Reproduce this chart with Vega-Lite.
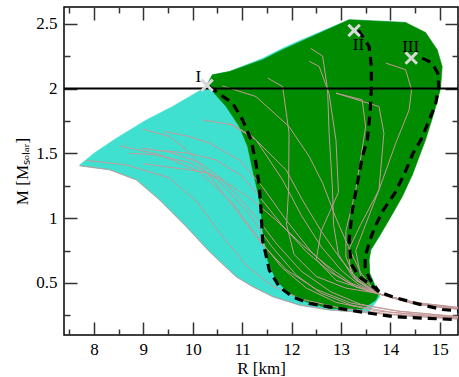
{
"$schema": "https://vega.github.io/schema/vega-lite/v6.json",
"width": 394, "height": 328,
"autosize": "none",
"padding": {"left": 64, "top": 7, "right": 1, "bottom": 42},
"background": "white",
"config": {"view": {"stroke": "#000", "strokeWidth": 1.5}, "font": "Liberation Serif"},
"datasets": {
"turq": [
{"R":7.71,"M":1.41},{"R":8.014,"M":1.505},{"R":8.453,"M":1.617},{"R":9.059,"M":1.758},{"R":9.59,"M":1.861},{"R":10.17,"M":1.99},{"R":10.277,"M":2.021},{"R":10.398,"M":2.106},{"R":10.741,"M":2.131},{"R":11.414,"M":2.233},{"R":11.818,"M":2.311},{"R":12.156,"M":2.369},{"R":13.166,"M":2.531},{"R":14.311,"M":2.51},{"R":14.95,"M":2.299},{"R":15.018,"M":2.003},{"R":14.445,"M":1.333},{"R":13.772,"M":0.856},{"R":13.604,"M":0.753},{"R":13.57,"M":0.676},{"R":13.584,"M":0.573},{"R":13.671,"M":0.496},{"R":13.772,"M":0.419},{"R":13.79,"M":0.393},{"R":13.55,"M":0.27},{"R":12.76,"M":0.29},{"R":12.155,"M":0.328},{"R":11.616,"M":0.393},{"R":11.212,"M":0.47},{"R":10.877,"M":0.547},{"R":10.338,"M":0.74},{"R":9.867,"M":0.934},{"R":9.327,"M":1.14},{"R":8.857,"M":1.294},{"R":8.317,"M":1.372},{"R":7.711,"M":1.403}
],
"green": [
{"R":10.277,"M":2.021},{"R":10.398,"M":2.106},{"R":10.741,"M":2.131},{"R":11.414,"M":2.222},{"R":11.818,"M":2.299},{"R":13.166,"M":2.531},{"R":14.311,"M":2.51},{"R":14.715,"M":2.433},{"R":14.95,"M":2.299},{"R":15.051,"M":2.17},{"R":15.018,"M":2.003},{"R":14.883,"M":1.81},{"R":14.715,"M":1.604},{"R":14.445,"M":1.333},{"R":14.242,"M":1.165},{"R":13.974,"M":0.985},{"R":13.772,"M":0.856},{"R":13.604,"M":0.753},{"R":13.57,"M":0.676},{"R":13.584,"M":0.573},{"R":13.671,"M":0.496},{"R":13.772,"M":0.419},{"R":13.705,"M":0.367},{"R":13.434,"M":0.298},{"R":12.762,"M":0.303},{"R":12.291,"M":0.354},{"R":11.954,"M":0.419},{"R":11.685,"M":0.522},{"R":11.515,"M":0.676},{"R":11.414,"M":0.908},{"R":11.382,"M":1.063},{"R":11.307,"M":1.217},{"R":11.212,"M":1.372},{"R":11.111,"M":1.552},{"R":10.943,"M":1.706},{"R":10.675,"M":1.861},{"R":10.337,"M":2.005}
],
"curves": [
{"c":"L1","R":7.71,"M":1.405},{"c":"L1","R":8.317,"M":1.374},{"c":"L1","R":8.857,"M":1.296},{"c":"L1","R":9.327,"M":1.142},{"c":"L1","R":9.867,"M":0.936},{"c":"L1","R":10.338,"M":0.742},{"c":"L1","R":10.877,"M":0.549},{"c":"L1","R":11.212,"M":0.472},{"c":"L1","R":11.616,"M":0.395},{"c":"L1","R":12.155,"M":0.33},{"c":"L1","R":12.76,"M":0.292},{"c":"L1","R":13.5,"M":0.27},{"c":"L1","R":14.5,"M":0.24},{"c":"L1","R":15.4,"M":0.22},
{"c":"L2","R":7.85,"M":1.445},{"c":"L2","R":8.66,"M":1.41},{"c":"L2","R":9.53,"M":1.31},{"c":"L2","R":10.1,"M":1.12},{"c":"L2","R":10.6,"M":0.86},{"c":"L2","R":11.1,"M":0.63},{"c":"L2","R":11.6,"M":0.48},{"c":"L2","R":12.2,"M":0.375},{"c":"L2","R":13.0,"M":0.305},{"c":"L2","R":14.0,"M":0.26},{"c":"L2","R":15.4,"M":0.225},
{"c":"L3","R":8.52,"M":1.557},{"c":"L3","R":9.33,"M":1.49},{"c":"L3","R":10.13,"M":1.36},{"c":"L3","R":10.8,"M":1.12},{"c":"L3","R":11.3,"M":0.86},{"c":"L3","R":11.8,"M":0.62},{"c":"L3","R":12.3,"M":0.46},{"c":"L3","R":12.9,"M":0.35},{"c":"L3","R":13.7,"M":0.285},{"c":"L3","R":14.6,"M":0.25},{"c":"L3","R":15.4,"M":0.23},
{"c":"L4","R":8.72,"M":1.5},{"c":"L4","R":9.2,"M":1.49},{"c":"L4","R":9.93,"M":1.43},{"c":"L4","R":10.5,"M":1.3},{"c":"L4","R":11.1,"M":1.05},{"c":"L4","R":11.6,"M":0.78},{"c":"L4","R":12.1,"M":0.56},{"c":"L4","R":12.6,"M":0.42},{"c":"L4","R":13.2,"M":0.33},{"c":"L4","R":14.0,"M":0.275},{"c":"L4","R":15.4,"M":0.232},
{"c":"L5","R":8.96,"M":1.54},{"c":"L5","R":9.53,"M":1.51},{"c":"L5","R":10.13,"M":1.43},{"c":"L5","R":10.6,"M":1.3},{"c":"L5","R":11.2,"M":1.05},{"c":"L5","R":11.7,"M":0.8},{"c":"L5","R":12.2,"M":0.59},{"c":"L5","R":12.8,"M":0.43},{"c":"L5","R":13.4,"M":0.335},{"c":"L5","R":14.2,"M":0.28},{"c":"L5","R":15.4,"M":0.236},
{"c":"L6","R":8.99,"M":1.686},{"c":"L6","R":9.53,"M":1.63},{"c":"L6","R":9.9,"M":1.52},{"c":"L6","R":10.4,"M":1.3},{"c":"L6","R":10.9,"M":1.05},{"c":"L6","R":11.4,"M":0.8},{"c":"L6","R":11.9,"M":0.6},{"c":"L6","R":12.5,"M":0.45},{"c":"L6","R":13.2,"M":0.345},{"c":"L6","R":14.1,"M":0.285},{"c":"L6","R":15.4,"M":0.24},
{"c":"L7","R":9.43,"M":1.668},{"c":"L7","R":9.93,"M":1.63},{"c":"L7","R":10.34,"M":1.578},{"c":"L7","R":10.94,"M":1.449},{"c":"L7","R":11.41,"M":1.243},{"c":"L7","R":11.9,"M":0.98},{"c":"L7","R":12.4,"M":0.74},{"c":"L7","R":12.9,"M":0.56},{"c":"L7","R":13.3,"M":0.47},{"c":"L7","R":13.72,"M":0.42},{"c":"L7","R":14.5,"M":0.345},{"c":"L7","R":15.4,"M":0.305},
{"c":"L8","R":9.4,"M":1.52},{"c":"L8","R":9.93,"M":1.5},{"c":"L8","R":10.47,"M":1.449},{"c":"L8","R":11.01,"M":1.32},{"c":"L8","R":11.35,"M":1.165},{"c":"L8","R":11.8,"M":0.95},{"c":"L8","R":12.3,"M":0.74},{"c":"L8","R":12.8,"M":0.58},{"c":"L8","R":13.3,"M":0.47},{"c":"L8","R":13.72,"M":0.42},{"c":"L8","R":14.5,"M":0.34},{"c":"L8","R":15.4,"M":0.3},
{"c":"L9","R":9.0,"M":1.42},{"c":"L9","R":9.93,"M":1.372},{"c":"L9","R":10.34,"M":1.346},{"c":"L9","R":10.81,"M":1.243},{"c":"L9","R":11.21,"M":1.14},{"c":"L9","R":11.7,"M":0.98},{"c":"L9","R":12.2,"M":0.8},{"c":"L9","R":12.7,"M":0.64},{"c":"L9","R":13.2,"M":0.5},{"c":"L9","R":13.72,"M":0.42},{"c":"L9","R":14.5,"M":0.335},{"c":"L9","R":15.4,"M":0.295},
{"c":"G1","R":10.6,"M":2.02},{"c":"G1","R":11.28,"M":1.938},{"c":"G1","R":11.95,"M":1.706},{"c":"G1","R":12.36,"M":1.474},{"c":"G1","R":12.63,"M":1.27},{"c":"G1","R":12.9,"M":1.0},{"c":"G1","R":13.15,"M":0.78},{"c":"G1","R":13.4,"M":0.58},{"c":"G1","R":13.72,"M":0.42},{"c":"G1","R":14.5,"M":0.34},{"c":"G1","R":15.4,"M":0.3},
{"c":"G2","R":10.21,"M":1.757},{"c":"G2","R":10.81,"M":1.719},{"c":"G2","R":11.21,"M":1.629},{"c":"G2","R":11.89,"M":1.372},{"c":"G2","R":12.22,"M":1.14},{"c":"G2","R":12.6,"M":0.9},{"c":"G2","R":13.0,"M":0.68},{"c":"G2","R":13.35,"M":0.52},{"c":"G2","R":13.72,"M":0.42},{"c":"G2","R":14.5,"M":0.338},{"c":"G2","R":15.4,"M":0.298},
{"c":"G3","R":10.74,"M":1.733},{"c":"G3","R":11.28,"M":1.604},{"c":"G3","R":11.82,"M":1.294},{"c":"G3","R":12.2,"M":1.02},{"c":"G3","R":12.6,"M":0.78},{"c":"G3","R":13.0,"M":0.6},{"c":"G3","R":13.35,"M":0.49},{"c":"G3","R":13.72,"M":0.42},{"c":"G3","R":14.5,"M":0.336},{"c":"G3","R":15.4,"M":0.296},
{"c":"G4","R":11.52,"M":2.08},{"c":"G4","R":11.82,"M":2.015},{"c":"G4","R":11.95,"M":1.655},{"c":"G4","R":11.94,"M":1.217},{"c":"G4","R":11.9,"M":0.95},{"c":"G4","R":12.05,"M":0.72},{"c":"G4","R":12.5,"M":0.55},{"c":"G4","R":13.1,"M":0.46},{"c":"G4","R":13.72,"M":0.42},{"c":"G4","R":14.5,"M":0.342},{"c":"G4","R":15.4,"M":0.302},
{"c":"G5","R":12.39,"M":2.31},{"c":"G5","R":12.63,"M":2.25},{"c":"G5","R":12.73,"M":1.99},{"c":"G5","R":12.76,"M":1.66},{"c":"G5","R":12.83,"M":1.22},{"c":"G5","R":12.85,"M":0.95},{"c":"G5","R":12.95,"M":0.72},{"c":"G5","R":13.25,"M":0.54},{"c":"G5","R":13.72,"M":0.42},{"c":"G5","R":14.5,"M":0.344},{"c":"G5","R":15.4,"M":0.304},
{"c":"G6","R":12.36,"M":2.21},{"c":"G6","R":12.56,"M":2.17},{"c":"G6","R":12.76,"M":1.96},{"c":"G6","R":12.9,"M":1.6},{"c":"G6","R":12.95,"M":1.2},{"c":"G6","R":12.6,"M":0.9},{"c":"G6","R":12.5,"M":0.68},{"c":"G6","R":12.9,"M":0.52},{"c":"G6","R":13.72,"M":0.42},{"c":"G6","R":14.5,"M":0.34},{"c":"G6","R":15.4,"M":0.3},
{"c":"G7","R":12.9,"M":1.964},{"c":"G7","R":13.43,"M":1.913},{"c":"G7","R":13.5,"M":1.706},{"c":"G7","R":13.3,"M":1.217},{"c":"G7","R":13.1,"M":0.9},{"c":"G7","R":13.1,"M":0.7},{"c":"G7","R":13.3,"M":0.52},{"c":"G7","R":13.72,"M":0.42},{"c":"G7","R":14.5,"M":0.346},{"c":"G7","R":15.4,"M":0.306},
{"c":"G8","R":12.9,"M":1.964},{"c":"G8","R":13.77,"M":1.861},{"c":"G8","R":13.87,"M":1.655},{"c":"G8","R":13.77,"M":1.217},{"c":"G8","R":13.5,"M":0.95},{"c":"G8","R":13.3,"M":0.75},{"c":"G8","R":13.4,"M":0.55},{"c":"G8","R":13.72,"M":0.42},{"c":"G8","R":14.5,"M":0.348},{"c":"G8","R":15.4,"M":0.308},
{"c":"G9","R":13.91,"M":2.196},{"c":"G9","R":14.31,"M":2.145},{"c":"G9","R":14.43,"M":1.99},{"c":"G9","R":14.38,"M":1.835},{"c":"G9","R":14.11,"M":1.578},{"c":"G9","R":13.77,"M":1.217},{"c":"G9","R":13.4,"M":0.95},{"c":"G9","R":13.15,"M":0.75},{"c":"G9","R":13.2,"M":0.58},{"c":"G9","R":13.72,"M":0.42},{"c":"G9","R":14.5,"M":0.35},{"c":"G9","R":15.4,"M":0.31}
],
"dashed": [
{"c":"A","R":10.337,"M":2.013},{"c":"A","R":10.808,"M":1.887},{"c":"A","R":11.01,"M":1.758},{"c":"A","R":11.18,"M":1.604},{"c":"A","R":11.281,"M":1.424},{"c":"A","R":11.348,"M":1.243},{"c":"A","R":11.382,"M":1.063},{"c":"A","R":11.414,"M":0.831},{"c":"A","R":11.55,"M":0.599},{"c":"A","R":11.752,"M":0.47},{"c":"A","R":12.02,"M":0.393},{"c":"A","R":12.358,"M":0.342},{"c":"A","R":12.762,"M":0.315},{"c":"A","R":13.434,"M":0.274},{"c":"A","R":14.109,"M":0.238},{"c":"A","R":14.782,"M":0.226},{"c":"A","R":15.4,"M":0.216},
{"c":"B","R":13.35,"M":2.45},{"c":"B","R":13.57,"M":2.325},{"c":"B","R":13.616,"M":2.17},{"c":"B","R":13.616,"M":2.003},{"c":"B","R":13.59,"M":1.81},{"c":"B","R":13.535,"M":1.604},{"c":"B","R":13.434,"M":1.474},{"c":"B","R":13.333,"M":1.269},{"c":"B","R":13.232,"M":1.063},{"c":"B","R":13.166,"M":0.831},{"c":"B","R":13.2,"M":0.651},{"c":"B","R":13.368,"M":0.547},{"c":"B","R":13.57,"M":0.496},{"c":"B","R":13.772,"M":0.431},{"c":"B","R":14.041,"M":0.393},{"c":"B","R":14.58,"M":0.336},{"c":"B","R":15.051,"M":0.295},{"c":"B","R":15.4,"M":0.283},
{"c":"C","R":14.647,"M":2.235},{"c":"C","R":14.849,"M":2.196},{"c":"C","R":14.96,"M":2.119},{"c":"C","R":14.98,"M":2.015},{"c":"C","R":14.92,"M":1.887},{"c":"C","R":14.79,"M":1.758},{"c":"C","R":14.62,"M":1.604},{"c":"C","R":14.46,"M":1.501},{"c":"C","R":14.29,"M":1.346},{"c":"C","R":14.09,"M":1.192},{"c":"C","R":13.86,"M":1.063},{"c":"C","R":13.69,"M":0.934},{"c":"C","R":13.59,"M":0.831},{"c":"C","R":13.49,"M":0.702},{"c":"C","R":13.49,"M":0.624},{"c":"C","R":13.57,"M":0.537},{"c":"C","R":13.772,"M":0.431}
],
"marks": [
{"t":"I","R":10.29,"M":2.025,"lR":10.115,"lM":2.088},
{"t":"II","R":13.267,"M":2.448,"lR":13.354,"lM":2.338},
{"t":"III","R":14.424,"M":2.235,"lR":14.412,"lM":2.317}
]
},
"layer": [
{
"data": {"name": "turq"},
"mark": {"type": "line", "fill": "#40E0D0", "stroke": "#40E0D0", "strokeWidth": 0.5},
"encoding": {
"x": {"field": "R", "type": "quantitative", "scale": {"domain": [7.394, 15.37], "nice": false, "zero": false},
"axis": {"orient": "bottom", "values": [7.5,8,8.5,9,9.5,10,10.5,11,11.5,12,12.5,13,13.5,14,14.5,15],
"labelExpr": "datum.value % 1 === 0 ? toString(datum.value) : ''",
"tickSize": {"condition": {"test": "datum.value % 1 === 0", "value": -13}, "value": -6},
"tickColor": "#333", "tickWidth": 1.5, "domain": false, "grid": false,
"labelFont": "Liberation Serif", "labelFontSize": 17, "labelColor": "#000", "labelPadding": 19, "labelFlush": false, "labelOverlap": false,
"title": "R [km]", "titleFont": "Liberation Serif", "titleFontSize": 17, "titleFontWeight": "normal", "titleColor": "#000", "titleY": 33, "titleBaseline": "middle"}},
"y": {"field": "M", "type": "quantitative", "scale": {"domain": [0.098, 2.629], "nice": false, "zero": false},
"axis": {"orient": "left", "values": [0.25,0.5,0.75,1,1.25,1.5,1.75,2,2.25,2.5],
"labelExpr": "datum.value % 0.5 === 0 ? toString(datum.value) : ''",
"tickSize": {"condition": {"test": "datum.value % 0.5 === 0", "value": -13}, "value": -6},
"tickColor": "#333", "tickWidth": 1.5, "domain": false, "grid": false,
"labelFont": "Liberation Serif", "labelFontSize": 17, "labelColor": "#000", "labelPadding": 20, "labelFlush": false, "labelOverlap": false,
"title": "M [Mₛₒₗₐᵣ]", "titleFont": "Liberation Serif", "titleFontSize": 17, "titleFontWeight": "normal", "titleColor": "#000", "titlePadding": 4}},
"order": {"value": null}
}
},
{
"data": {"name": "green"},
"mark": {"type": "line", "fill": "#008B00", "stroke": "#008B00", "strokeWidth": 0.5},
"encoding": {
"x": {"field": "R", "type": "quantitative", "scale": {"domain": [7.394, 15.37], "nice": false, "zero": false},
"axis": {"orient": "top", "values": [7.5,8,8.5,9,9.5,10,10.5,11,11.5,12,12.5,13,13.5,14,14.5,15], "labels": false, "title": null,
"tickSize": {"condition": {"test": "datum.value % 1 === 0", "value": -13}, "value": -6},
"tickColor": "#333", "tickWidth": 1.5, "domain": false, "grid": false}},
"y": {"field": "M", "type": "quantitative", "scale": {"domain": [0.098, 2.629], "nice": false, "zero": false},
"axis": {"orient": "right", "values": [0.25,0.5,0.75,1,1.25,1.5,1.75,2,2.25,2.5], "labels": false, "title": null,
"tickSize": {"condition": {"test": "datum.value % 0.5 === 0", "value": -13}, "value": -6},
"tickColor": "#333", "tickWidth": 1.5, "domain": false, "grid": false}},
"order": {"value": null}
}
},
{
"data": {"name": "curves"},
"mark": {"type": "line", "stroke": "#C49A9A", "strokeWidth": 1, "clip": true},
"encoding": {
"x": {"field": "R", "type": "quantitative", "scale": {"domain": [7.394, 15.37], "nice": false, "zero": false}, "axis": null},
"y": {"field": "M", "type": "quantitative", "scale": {"domain": [0.098, 2.629], "nice": false, "zero": false}, "axis": null},
"detail": {"field": "c"},
"order": {"value": null}
}
},
{
"data": {"values": [{"M": 2}]},
"mark": {"type": "rule", "stroke": "#000", "strokeWidth": 2},
"encoding": {"y": {"field": "M", "type": "quantitative", "scale": {"domain": [0.098, 2.629], "nice": false, "zero": false}, "axis": null}}
},
{
"data": {"name": "dashed"},
"mark": {"type": "line", "stroke": "#000", "strokeWidth": 3.2, "strokeDash": [9, 6], "clip": true},
"encoding": {
"x": {"field": "R", "type": "quantitative", "scale": {"domain": [7.394, 15.37], "nice": false, "zero": false}, "axis": null},
"y": {"field": "M", "type": "quantitative", "scale": {"domain": [0.098, 2.629], "nice": false, "zero": false}, "axis": null},
"detail": {"field": "c"},
"order": {"value": null}
}
},
{
"data": {"name": "marks"},
"mark": {"type": "point", "shape": "M-1,-1L1,1M-1,1L1,-1", "size": 130, "filled": false, "stroke": "#D8D8D8", "strokeWidth": 3, "opacity": 1},
"encoding": {
"x": {"field": "R", "type": "quantitative", "scale": {"domain": [7.394, 15.37], "nice": false, "zero": false}, "axis": null},
"y": {"field": "M", "type": "quantitative", "scale": {"domain": [0.098, 2.629], "nice": false, "zero": false}, "axis": null}
}
},
{
"data": {"name": "marks"},
"mark": {"type": "text", "font": "Liberation Serif", "fontSize": 17, "color": "#000", "align": "center", "baseline": "middle"},
"encoding": {
"x": {"field": "lR", "type": "quantitative", "scale": {"domain": [7.394, 15.37], "nice": false, "zero": false}, "axis": null},
"y": {"field": "lM", "type": "quantitative", "scale": {"domain": [0.098, 2.629], "nice": false, "zero": false}, "axis": null},
"text": {"field": "t"}
}
}
],
"resolve": {"axis": {"x": "independent", "y": "independent"}}
}
